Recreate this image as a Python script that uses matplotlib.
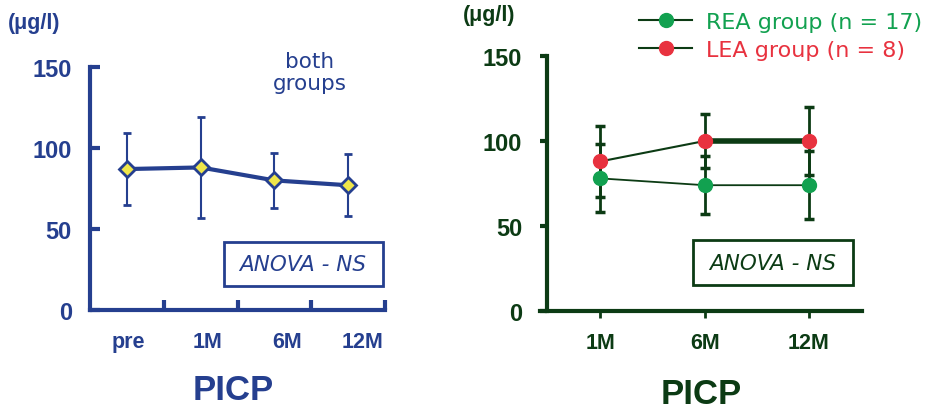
import matplotlib
matplotlib.use("Agg")
import matplotlib.pyplot as plt
from matplotlib.lines import Line2D
from matplotlib.patches import Rectangle

# ---- data ----
left_cats = ["pre", "1M", "6M", "12M"]
left_mean = [87, 88, 80, 77]
left_err = [22, 31, 17, 19]

right_cats = ["1M", "6M", "12M"]
rea_mean = [78, 74, 74]
rea_err = [20, 17, 20]
lea_mean = [88, 100, 100]
lea_err = [21, 16, 20]

yticks = [0, 50, 100, 150]

NAVY = "#253f8f"
YEL = "#efe64a"
DKG = "#0c3b14"
GRN = "#12a150"
RED = "#e8323f"

W, H = 926, 410
fig = plt.figure(figsize=(W / 100, H / 100), dpi=100)
plt.rcParams['font.family'] = ['Liberation Sans', 'DejaVu Sans']
SOFT = ['DejaVu Sans']

def fx(px):
    return px / W

def fy(py):
    return 1 - py / H

# ---------------- left panel ----------------
axL = fig.add_axes([fx(90), fy(311), fx(385) - fx(90), fy(68) - fy(311)])
xl = [i + 0.5 for i in range(len(left_cats))]
axL.set_xlim(0, len(left_cats))
axL.set_ylim(0, 150)
axL.errorbar(xl, left_mean, yerr=left_err, fmt='none', ecolor=NAVY,
             elinewidth=1.5, capsize=3, capthick=2, zorder=2)
axL.plot(xl, left_mean, color=NAVY, lw=3, marker='D', ms=8,
         mfc=YEL, mec=NAVY, mew=2, zorder=3, clip_on=False)
for s in ['top', 'right']:
    axL.spines[s].set_visible(False)
for s in ['left', 'bottom']:
    axL.spines[s].set_color(NAVY)
    axL.spines[s].set_linewidth(3)
axL.set_yticks(yticks)
axL.set_yticklabels([str(v) for v in yticks], fontsize=17, fontweight='bold', color=NAVY)
axL.tick_params(axis='y', direction='in', length=7, width=3, color=NAVY, pad=13)
axL.set_xticks([1, 2, 3, 4])
axL.set_xticklabels([])
axL.tick_params(axis='x', direction='in', length=7, width=3, color=NAVY)
lab_pos_L = [0.52, 1.59, 2.67, 3.70]
for p, c in zip(lab_pos_L, left_cats):
    axL.text(p, -0.128, c, transform=axL.get_xaxis_transform(), ha='center', va='center',
             fontsize=15.5, fontweight='bold', color=NAVY)
fig.text(fx(8), fy(23), "(\u03bcg/l)", ha='left', va='center', fontsize=15.5,
         fontweight='bold', color=NAVY)
fig.text(fx(310), fy(73), "both\ngroups", ha='center', va='center', fontsize=15.5,
         color=NAVY, linespacing=1.15, family=SOFT)
fig.patches.append(Rectangle((fx(224), fy(287)), fx(383) - fx(224), fy(243) - fy(287),
                             transform=fig.transFigure, fill=False, ec=NAVY, lw=2))
fig.text(fx(303), fy(265), "ANOVA - NS", ha='center', va='center', fontsize=15.5,
         style='italic', color=NAVY, family=SOFT)
fig.text(fx(233), fy(391), "PICP", ha='center', va='center', fontsize=25,
         fontweight='bold', color=NAVY)

# ---------------- right panel ----------------
axR = fig.add_axes([fx(540), fy(312), fx(862) - fx(540), fy(57) - fy(312)])
xr = [i + 1 for i in range(len(right_cats))]
axR.set_xlim(0.42, 3.51)
axR.set_ylim(0, 150)
axR.errorbar(xr, lea_mean, yerr=lea_err, fmt='none', ecolor=DKG,
             elinewidth=2, capsize=3.5, capthick=2.5, zorder=2)
axR.errorbar(xr, rea_mean, yerr=rea_err, fmt='none', ecolor=DKG,
             elinewidth=2, capsize=3.5, capthick=2.5, zorder=2)
axR.plot(xr, rea_mean, color=DKG, lw=1.3, zorder=3)
axR.plot(xr, lea_mean, color=DKG, lw=1.5, zorder=3)
axR.plot(xr[1:], lea_mean[1:], color=DKG, lw=4, zorder=3)
axR.plot(xr, rea_mean, ls='none', marker='o', ms=10, mfc=GRN, mec=GRN, zorder=4)
axR.plot(xr, lea_mean, ls='none', marker='o', ms=10, mfc=RED, mec=RED, zorder=4)
for s in ['top', 'right']:
    axR.spines[s].set_visible(False)
axR.spines['left'].set_position(('data', 0.49))
for s in ['left', 'bottom']:
    axR.spines[s].set_color(DKG)
    axR.spines[s].set_linewidth(3)
axR.set_yticks(yticks)
axR.set_yticklabels([str(v) for v in yticks], fontsize=17, fontweight='bold', color=DKG)
axR.tick_params(axis='y', direction='out', length=5, width=3, color=DKG, pad=13)
axR.set_xticks(xr)
axR.set_xticklabels(right_cats, fontsize=15.5, fontweight='bold', color=DKG)
axR.tick_params(axis='x', direction='out', length=5, width=2, color=DKG, pad=10)
fig.text(fx(463), fy(15), "(\u03bcg/l)", ha='left', va='center', fontsize=15.5,
         fontweight='bold', color=DKG)
fig.patches.append(Rectangle((fx(693), fy(286)), fx(853) - fx(693), fy(241) - fy(286),
                             transform=fig.transFigure, fill=False, ec=DKG, lw=2))
fig.text(fx(773), fy(264), "ANOVA - NS", ha='center', va='center', fontsize=15.5,
         style='italic', color=DKG, family=SOFT)
fig.text(fx(701), fy(395), "PICP", ha='center', va='center', fontsize=25,
         fontweight='bold', color=DKG)

handles = [
    Line2D([], [], color=DKG, lw=1.5, marker='o', ms=10, mfc=GRN, mec=GRN),
    Line2D([], [], color=DKG, lw=1.5, marker='o', ms=10, mfc=RED, mec=RED),
]
labels = ["REA group (n = 17)", "LEA group (n = 8)"]
fig.legend(handles, labels, loc='upper left', bbox_to_anchor=(fx(630), fy(4)),
           frameon=False, prop={'family': SOFT, 'size': 16}, labelcolor=[GRN, RED],
           handlelength=2.4, handletextpad=0.6, labelspacing=0.35, borderaxespad=0)

fig.savefig("out.png", dpi=100)
